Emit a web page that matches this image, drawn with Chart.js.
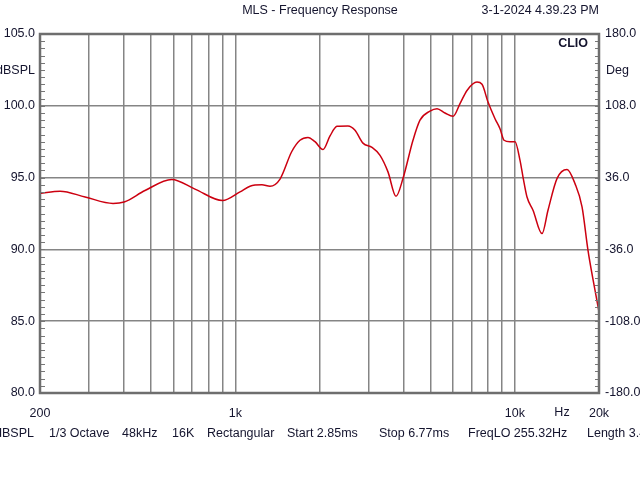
<!DOCTYPE html>
<html>
<head>
<meta charset="utf-8">
<script src="https://cdn.jsdelivr.net/npm/chart.js@4"></script>
<style>
  html, body { margin: 0; padding: 0; background: #fff; }
  canvas { display: block; }
</style>
</head>
<body>
<canvas id="clioChart" width="640" height="480"></canvas>
<script>
const FREQ_HZ = [200, 236, 290, 365, 400, 475, 592, 717, 900, 1039, 1128, 1245, 1330, 1445, 1590, 1703, 1819, 1927, 2058, 2181, 2310, 2529, 2680, 2861, 3082, 3293, 3516, 3756, 3980, 4320, 4577, 4970, 5266, 5623, 6008, 6364, 6742, 7320, 7629, 8015, 8492, 8848, 9146, 9608, 10012, 10434, 10694, 11052, 11612, 12508, 13140, 14148, 15366, 16412, 17392, 18266, 19352, 20000];
const SPL_DB = [93.9, 94.05, 93.65, 93.2, 93.3, 94.1, 94.87, 94.2, 93.4, 94.0, 94.4, 94.5, 94.4, 94.9, 96.8, 97.6, 97.8, 97.5, 96.95, 97.9, 98.57, 98.6, 98.3, 97.4, 97.1, 96.55, 95.4, 93.7, 94.95, 97.6, 99.0, 99.63, 99.8, 99.5, 99.27, 100.15, 101.07, 101.65, 101.5, 100.26, 99.1, 98.4, 97.6, 97.5, 97.5, 96.2, 95.04, 93.65, 92.73, 91.1, 92.73, 94.93, 95.56, 94.58, 92.96, 89.94, 87.16, 85.65];

// Axis ticks
const X_TICKS = [200, 300, 400, 500, 600, 700, 800, 900, 1000, 2000, 3000, 4000, 5000, 6000, 7000, 8000, 9000, 10000, 20000];
const X_LABELS = { 200: '200', 1000: '1k', 10000: '10k', 20000: '20k' };
const SPL_RANGE = [80, 105];
const DEG_RANGE = [-180, 180];

// Header / footer texts
const TITLE = 'MLS - Frequency Response';
const DATE_TEXT = '3-1-2024 4.39.23 PM';
const FOOTER = [
    ['dBSPL', -5], ['1/3 Octave', 49], ['48kHz', 122], ['16K', 172], ['Rectangular', 207],
    ['Start 2.85ms', 287], ['Stop 6.77ms', 379], ['FreqLO 255.32Hz', 468], ['Length 3.47ms', 587]
];

const TXT = '#14142e';
const FONT = '12.5px "Liberation Sans", Arial, sans-serif';

const clioDecor = {
    id: 'clioDecor',
    afterDraw(chart) {
        const ctx = chart.ctx;
        const a = chart.chartArea;
        const ys = chart.scales.y;
        ctx.save();

        // minor ticks, inside the frame
        ctx.strokeStyle = '#777';
        ctx.lineWidth = 1;
        for (let v = SPL_RANGE[0]; v <= SPL_RANGE[1]; v += 0.5) {
            const py = Math.round(ys.getPixelForValue(v)) + 0.5;
            ctx.beginPath();
            ctx.moveTo(a.left, py); ctx.lineTo(a.left + 5, py);
            ctx.moveTo(a.right, py); ctx.lineTo(a.right - 4, py);
            ctx.stroke();
        }

        // frame
        ctx.strokeStyle = '#6e6e6e';
        ctx.lineWidth = 2.5;
        ctx.strokeRect(a.left, a.top, a.right - a.left, a.bottom - a.top);

        ctx.fillStyle = TXT;
        ctx.font = FONT;
        ctx.textBaseline = 'middle';

        ctx.textAlign = 'center';
        ctx.fillText(TITLE, 320, 11);
        ctx.fillText('Hz', a.right - 37, 413);

        ctx.textAlign = 'right';
        ctx.fillText(DATE_TEXT, a.right, 11);
        ctx.fillText('dBSPL', 35, 71);

        ctx.textAlign = 'left';
        ctx.fillText('Deg', 606, 71);
        FOOTER.forEach(([t, x]) => ctx.fillText(t, x, 434));

        ctx.textAlign = 'right';
        ctx.font = 'bold 12.5px "Liberation Sans", Arial, sans-serif';
        ctx.fillText('CLIO', a.right - 11, 44);

        ctx.restore();
    }
};

new Chart(document.getElementById('clioChart'), {
    type: 'line',
    data: {
        datasets: [{
            data: FREQ_HZ.map((f, i) => ({ x: f, y: SPL_DB[i] })),
            borderColor: 'rgb(204, 0, 16)',
            borderWidth: 1.5,
            pointRadius: 0,
            cubicInterpolationMode: 'monotone',
            fill: false
        }]
    },
    options: {
        responsive: false,
        animation: false,
        devicePixelRatio: 1,
        layout: { padding: { top: 34, left: 0, right: 0, bottom: 0 } },
        plugins: { legend: { display: false }, tooltip: { enabled: false } },
        scales: {
            x: {
                type: 'logarithmic',
                min: 200,
                max: 20000,
                afterBuildTicks: s => { s.ticks = X_TICKS.map(v => ({ value: v })); },
                afterFit: s => { s.height = 87; },
                grid: { color: '#858585', lineWidth: 1.5, drawTicks: false },
                border: { display: false },
                ticks: {
                    autoSkip: false,
                    maxRotation: 0,
                    padding: 13,
                    color: TXT,
                    font: { family: '"Liberation Sans", Arial, sans-serif', size: 12.5 },
                    callback: v => X_LABELS[v] || ''
                }
            },
            y: {
                position: 'left',
                min: SPL_RANGE[0],
                max: SPL_RANGE[1],
                afterFit: s => { s.width = 40; },
                grid: { color: '#858585', lineWidth: 1.5, drawTicks: false },
                border: { display: false },
                ticks: {
                    stepSize: 5,
                    padding: 5,
                    color: TXT,
                    font: { family: '"Liberation Sans", Arial, sans-serif', size: 12.5 },
                    callback: v => v.toFixed(1)
                }
            },
            y2: {
                position: 'right',
                min: DEG_RANGE[0],
                max: DEG_RANGE[1],
                afterFit: s => { s.width = 41; },
                grid: { display: false, drawTicks: false },
                border: { display: false },
                ticks: {
                    stepSize: 72,
                    padding: 6,
                    color: TXT,
                    font: { family: '"Liberation Sans", Arial, sans-serif', size: 12.5 },
                    callback: v => v.toFixed(1)
                }
            }
        }
    },
    plugins: [clioDecor]
});
</script>
</body>
</html>
